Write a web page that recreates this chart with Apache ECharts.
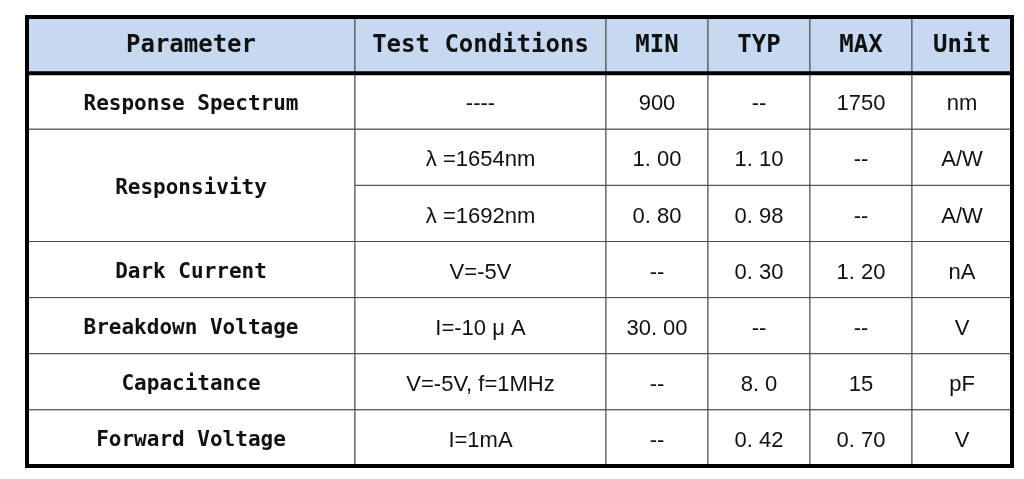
<!DOCTYPE html>
<html>
<head>
<meta charset="utf-8">
<script src="https://cdn.jsdelivr.net/npm/echarts@6/dist/echarts.min.js"></script>
<style>
  html, body { margin: 0; padding: 0; background: #ffffff; }
  #chart { width: 1024px; height: 479px; }
</style>
</head>
<body>
<div id="chart"></div>
<script>
// ---- table content ----
const headers    = ['Parameter', 'Test Conditions', 'MIN', 'TYP', 'MAX', 'Unit'];
const parameters = ['Response Spectrum', 'Responsivity', 'Responsivity', 'Dark Current',
                    'Breakdown Voltage', 'Capacitance', 'Forward Voltage'];
const conditions = ['----', 'λ =1654nm', 'λ =1692nm', 'V=-5V', 'I=-10 μ A', 'V=-5V, f=1MHz', 'I=1mA'];
const minValues  = ['900', '1. 00', '0. 80', '--', '30. 00', '--', '--'];
const typValues  = ['--', '1. 10', '0. 98', '0. 30', '--', '8. 0', '0. 42'];
const maxValues  = ['1750', '--', '--', '1. 20', '--', '15', '0. 70'];
const units      = ['nm', 'A/W', 'A/W', 'nA', 'V', 'pF', 'V'];

// ---- layout (not data) ----
const colWidths = [328, 251, 102, 102, 102, 100];
const colEdges = [0];
colWidths.forEach(w => colEdges.push(colEdges[colEdges.length - 1] + w));
const totalW = colEdges[colEdges.length - 1];
const nRows = parameters.length + 1;

const HEADER_FILL = '#c6d9f0';
const GRID_LINE = '#4a4a4a';
const monoFont = 'DejaVu Sans Mono';
const sansFont = 'Liberation Sans';

// Build cell list from the arrays
const cells = [];
headers.forEach((h, c) => cells.push({ c0: c, c1: c + 1, r0: 0, r1: 1, text: h, kind: 'header' }));
for (let i = 0; i < parameters.length; ) {
  let j = i + 1;
  while (j < parameters.length && parameters[j] === parameters[i]) j++;
  cells.push({ c0: 0, c1: 1, r0: i + 1, r1: j + 1, text: parameters[i], kind: 'param' });
  i = j;
}
const valueCols = [conditions, minValues, typValues, maxValues, units];
valueCols.forEach((arr, k) => {
  arr.forEach((t, i) => cells.push({ c0: k + 1, c1: k + 2, r0: i + 1, r1: i + 2, text: t, kind: 'value' }));
});

const cellData = cells.map(c => [colEdges[c.c0], colEdges[c.c1], c.r0, c.r1]);

function renderCell(params, api) {
  const cell = cells[params.dataIndex];
  const p0 = api.coord([api.value(0), api.value(2)]);
  const p1 = api.coord([api.value(1), api.value(3)]);
  const x = Math.min(p0[0], p1[0]), y = Math.min(p0[1], p1[1]);
  const w = Math.abs(p1[0] - p0[0]), h = Math.abs(p1[1] - p0[1]);
  let font, dy;
  if (cell.kind === 'header') { font = 'bold 24px "' + monoFont + '"'; dy = 1; }
  else if (cell.kind === 'param') { font = 'bold 21px "' + monoFont + '"'; dy = 3; }
  else { font = '22px "' + sansFont + '", "Noto Sans CJK SC"'; dy = 3; }
  return {
    type: 'group',
    children: [
      { type: 'rect', shape: { x: x, y: y, width: w, height: h },
        style: { fill: cell.kind === 'header' ? HEADER_FILL : '#ffffff', stroke: GRID_LINE, lineWidth: 1 } },
      { type: 'text',
        style: { text: cell.text, x: x + w / 2, y: y + h / 2 + dy, align: 'center', verticalAlign: 'middle',
                 font: font, fill: '#111111' } }
    ]
  };
}

function renderFrame(params, api) {
  const a = api.coord([0, 0]);
  const b = api.coord([totalW, nRows]);
  const hy = api.coord([0, 1])[1];
  return {
    type: 'group',
    children: [
      { type: 'line', shape: { x1: a[0], y1: hy, x2: b[0], y2: hy }, style: { stroke: '#000', lineWidth: 4 } },
      { type: 'rect', shape: { x: a[0], y: a[1], width: b[0] - a[0], height: b[1] - a[1] },
        style: { fill: null, stroke: '#000', lineWidth: 4 } }
    ]
  };
}

const chart = echarts.init(document.getElementById('chart'), null, { renderer: 'canvas' });
chart.setOption({
  animation: false,
  backgroundColor: '#ffffff',
  grid: { left: 27, right: 12, top: 17, bottom: 13 },
  xAxis: { type: 'value', min: 0, max: totalW, show: false },
  yAxis: { type: 'value', min: 0, max: nRows, inverse: true, show: false },
  series: [
    { type: 'custom', name: 'cells', data: cellData, renderItem: renderCell, z: 2, silent: true },
    { type: 'custom', name: 'frame', data: [[0, 0, 0, 0]], renderItem: renderFrame, z: 3, silent: true }
  ]
});
</script>
</body>
</html>
